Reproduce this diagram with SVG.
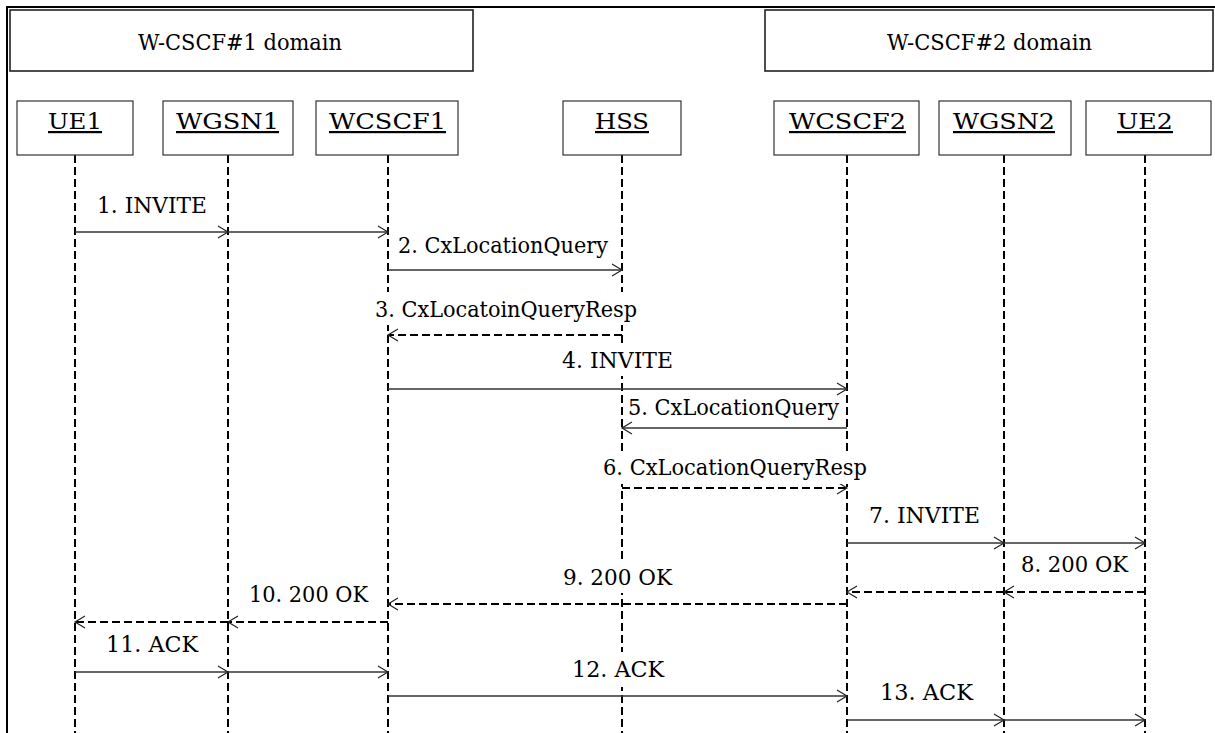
<svg xmlns="http://www.w3.org/2000/svg" width="1215" height="733" viewBox="0 0 1215 733">
  <style>
    text { fill: #000; font-family: "DejaVu Serif", "Liberation Serif", serif; }
    .dom { font-size: 23px; }
    .obj { font-size: 22px; text-decoration: underline; }
    .msg { font-size: 23px; }
    .frame { fill: none; stroke: #000; stroke-width: 2; }
    .dombox { fill: #fff; stroke: #222; stroke-width: 1.6; }
    .objbox { fill: #fff; stroke: #333; stroke-width: 1.2; }
    .life { stroke: #000; stroke-width: 2; stroke-dasharray: 8 4; fill: none; }
    .call { stroke: #333; stroke-width: 1.3; fill: none; marker-end: url(#open); }
    .reply { stroke: #000; stroke-width: 2; stroke-dasharray: 8 4; fill: none; marker-end: url(#open); }
    .bg { fill: #fff; stroke: none; }
  </style>
  <defs>
    <marker id="open" markerUnits="userSpaceOnUse" markerWidth="14" markerHeight="16" refX="11" refY="7" orient="auto" overflow="visible">
      <path d="M1,1 L11,7 L1,13" fill="none" stroke="#222" stroke-width="1.2" stroke-dasharray="none"/>
    </marker>
  </defs>

  <rect width="1215" height="733" fill="#fff"/>
  <!-- outer frame -->
  <rect class="frame" x="7" y="7" width="1220" height="740"/>

  <!-- domains -->
  <g id="domain1">
    <rect class="dombox" x="10" y="10" width="463" height="61"/>
    <text class="dom" x="138" y="50" textLength="204" lengthAdjust="spacingAndGlyphs">W-CSCF#1 domain</text>
  </g>
  <g id="domain2">
    <rect class="dombox" x="765" y="10" width="448" height="61"/>
    <text class="dom" x="887" y="50" textLength="205" lengthAdjust="spacingAndGlyphs">W-CSCF#2 domain</text>
  </g>

  <!-- lifelines -->
  <g id="lifelines">
    <line class="life" x1="75" y1="155" x2="75" y2="733"/>
    <line class="life" x1="228" y1="155" x2="228" y2="733"/>
    <line class="life" x1="388" y1="155" x2="388" y2="733"/>
    <line class="life" x1="622" y1="155" x2="622" y2="733"/>
    <line class="life" x1="847" y1="155" x2="847" y2="733"/>
    <line class="life" x1="1004" y1="155" x2="1004" y2="733"/>
    <line class="life" x1="1145" y1="155" x2="1145" y2="733"/>
  </g>

  <!-- participants -->
  <g id="UE1">
    <rect class="objbox" x="17" y="101" width="116" height="54"/>
    <text class="obj" x="48" y="129" textLength="54" lengthAdjust="spacingAndGlyphs">UE1</text>
  </g>
  <g id="WGSN1">
    <rect class="objbox" x="163" y="101" width="130" height="54"/>
    <text class="obj" x="176" y="129" textLength="103" lengthAdjust="spacingAndGlyphs">WGSN1</text>
  </g>
  <g id="WCSCF1">
    <rect class="objbox" x="316" y="101" width="142" height="54"/>
    <text class="obj" x="329" y="129" textLength="117" lengthAdjust="spacingAndGlyphs">WCSCF1</text>
  </g>
  <g id="HSS">
    <rect class="objbox" x="563" y="101" width="118" height="54"/>
    <text class="obj" x="595" y="129" textLength="54" lengthAdjust="spacingAndGlyphs">HSS</text>
  </g>
  <g id="WCSCF2">
    <rect class="objbox" x="774" y="101" width="145" height="54"/>
    <text class="obj" x="789" y="129" textLength="117" lengthAdjust="spacingAndGlyphs">WCSCF2</text>
  </g>
  <g id="WGSN2">
    <rect class="objbox" x="939" y="101" width="132" height="54"/>
    <text class="obj" x="953" y="129" textLength="102" lengthAdjust="spacingAndGlyphs">WGSN2</text>
  </g>
  <g id="UE2">
    <rect class="objbox" x="1086" y="101" width="125" height="54"/>
    <text class="obj" x="1117" y="129" textLength="56" lengthAdjust="spacingAndGlyphs">UE2</text>
  </g>

  <!-- messages -->
  <g id="connectors">
    <!-- 1 -->
    <line class="call" x1="75" y1="232" x2="228" y2="232"/>
    <line class="call" x1="228" y1="232" x2="388" y2="232"/>
    <text class="msg" x="97" y="213" textLength="110" lengthAdjust="spacingAndGlyphs">1. INVITE</text>
    <!-- 2 -->
    <line class="call" x1="388" y1="270" x2="622" y2="270"/>
    <text class="msg" x="398" y="253" textLength="210" lengthAdjust="spacingAndGlyphs">2. CxLocationQuery</text>
    <!-- 3 -->
    <line class="reply" x1="622" y1="335" x2="388" y2="335"/>
    <rect class="bg" x="374" y="292" width="264" height="33"/>
    <text class="msg" x="375" y="317" textLength="262" lengthAdjust="spacingAndGlyphs">3. CxLocatoinQueryResp</text>
    <!-- 4 -->
    <line class="call" x1="388" y1="389" x2="847" y2="389"/>
    <rect class="bg" x="561" y="343" width="113" height="33"/>
    <text class="msg" x="562" y="368" textLength="111" lengthAdjust="spacingAndGlyphs">4. INVITE</text>
    <!-- 5 -->
    <line class="call" x1="847" y1="428" x2="622" y2="428"/>
    <text class="msg" x="628" y="415" textLength="211" lengthAdjust="spacingAndGlyphs">5. CxLocationQuery</text>
    <!-- 6 -->
    <line class="reply" x1="622" y1="488" x2="847" y2="488"/>
    <rect class="bg" x="602" y="451" width="266" height="33"/>
    <text class="msg" x="603" y="475" textLength="264" lengthAdjust="spacingAndGlyphs">6. CxLocationQueryResp</text>
    <!-- 7 -->
    <line class="call" x1="847" y1="543" x2="1004" y2="543"/>
    <line class="call" x1="1004" y1="543" x2="1145" y2="543"/>
    <text class="msg" x="869" y="523" textLength="111" lengthAdjust="spacingAndGlyphs">7. INVITE</text>
    <!-- 8 -->
    <line class="reply" x1="1145" y1="592" x2="1004" y2="592"/>
    <line class="reply" x1="1004" y1="592" x2="847" y2="592"/>
    <text class="msg" x="1021" y="572" textLength="107" lengthAdjust="spacingAndGlyphs">8. 200 OK</text>
    <!-- 9 -->
    <line class="reply" x1="847" y1="604" x2="388" y2="604"/>
    <rect class="bg" x="562" y="560" width="111" height="33"/>
    <text class="msg" x="563" y="585" textLength="109" lengthAdjust="spacingAndGlyphs">9. 200 OK</text>
    <!-- 10 -->
    <line class="reply" x1="388" y1="622" x2="228" y2="622"/>
    <line class="reply" x1="228" y1="622" x2="75" y2="622"/>
    <text class="msg" x="249" y="602" textLength="119" lengthAdjust="spacingAndGlyphs">10. 200 OK</text>
    <!-- 11 -->
    <line class="call" x1="75" y1="672" x2="228" y2="672"/>
    <line class="call" x1="228" y1="672" x2="388" y2="672"/>
    <text class="msg" x="106" y="652" textLength="92" lengthAdjust="spacingAndGlyphs">11. ACK</text>
    <!-- 12 -->
    <line class="call" x1="388" y1="696" x2="847" y2="696"/>
    <rect class="bg" x="571" y="652" width="94" height="35"/>
    <text class="msg" x="572" y="677" textLength="92" lengthAdjust="spacingAndGlyphs">12. ACK</text>
    <!-- 13 -->
    <line class="call" x1="847" y1="720" x2="1004" y2="720"/>
    <line class="call" x1="1004" y1="720" x2="1145" y2="720"/>
    <text class="msg" x="880" y="700" textLength="93" lengthAdjust="spacingAndGlyphs">13. ACK</text>
  </g>
</svg>
